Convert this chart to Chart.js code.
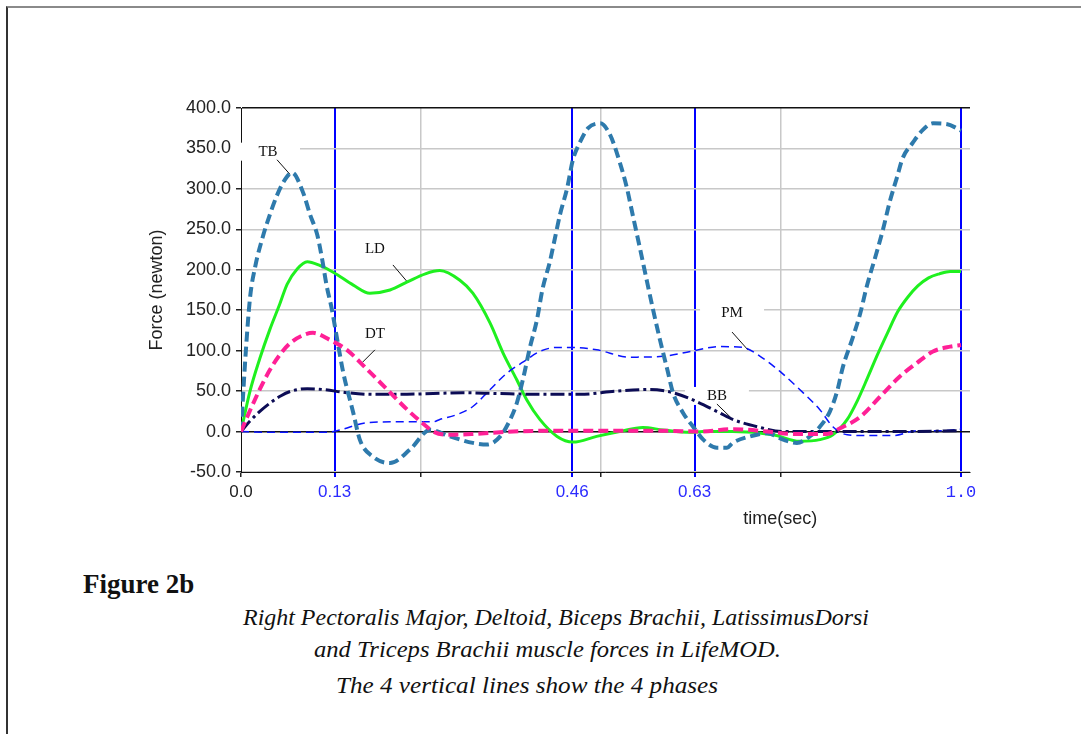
<!DOCTYPE html>
<html><head><meta charset="utf-8">
<script src="https://cdn.jsdelivr.net/npm/chart.js@4.4.1/dist/chart.umd.min.js"></script>
<style>
html,body{margin:0;padding:0;background:#fff;}
body{width:1081px;height:734px;position:relative;overflow:hidden;}
#frame{position:absolute;left:6px;top:6px;right:-4px;bottom:-4px;border-left:2px solid #333;border-top:2px solid #8a8a8a;}
#c{position:absolute;left:0;top:0;}
.cap{position:absolute;white-space:nowrap;font-family:'Liberation Serif','Times New Roman',serif;color:#111;line-height:1;}
#fig{left:83px;top:571px;font-weight:bold;font-size:27px;}
.it{font-style:italic;font-size:23px;transform-origin:0 0;}
</style></head>
<body>
<div id="frame"></div>
<canvas id="c" width="1081" height="540"></canvas>
<div class="cap" id="fig">Figure 2b</div>
<div class="cap it" style="left:243px;top:606px" data-w="626">Right Pectoralis Major, Deltoid, Biceps Brachii, LatissimusDorsi</div>
<div class="cap it" style="left:314px;top:638px" data-w="467">and Triceps Brachii muscle forces in LifeMOD.</div>
<div class="cap it" style="left:336px;top:674px" data-w="382">The 4 vertical lines show the 4 phases</div>
<script>
// ---- data ----
const tbTime  = [0,0.006,0.0125,0.02,0.03,0.040,0.050,0.060,0.071,0.086,0.096,0.106,0.1125,0.119,0.126,0.133,0.142,0.156,0.165,0.183,0.207,0.235,0.2625,0.290,0.322,0.342,0.360,0.374,0.383,0.392,0.401,0.411,0.419,0.429,0.436,0.443,0.453,0.461,0.471,0.482,0.499,0.5125,0.526,0.536,0.544,0.554,0.564,0.572,0.582,0.592,0.600,0.614,0.628,0.642,0.661,0.675,0.683,0.707,0.731,0.753,0.772,0.790,0.804,0.818,0.828,0.836,0.850,0.860,0.869,0.883,0.892,0.901,0.911,0.919,0.933,0.947,0.961,0.981,0.994,1.0];
const tbForce = [0,90,165,205,240,268,292,310,320,296,268,243,214,180,152,117,73,23,-10,-31,-39,-22,2,-6,-14,-16,-6,15,35,66,103,138,177,210,239,268,301,336,358,375,381,367,333,301,268,227,185,152,113,77,48,23,6,-10,-20,-20,-14,-6,-2,-10,-14,-6,6,25,50,80,117,146,179,222,251,284,314,338,357,373,381,380,375,372];

const ldTime  = [0,0.0125,0.026,0.040,0.054,0.064,0.078,0.092,0.110,0.128,0.156,0.179,0.207,0.231,0.256,0.276,0.304,0.322,0.346,0.364,0.383,0.397,0.415,0.439,0.461,0.494,0.526,0.558,0.586,0.624,0.642,0.683,0.739,0.776,0.804,0.822,0.842,0.856,0.870,0.884,0.898,0.912,0.926,0.940,0.955,0.970,0.985,1.0];
const ldForce = [0,50,90,126,158,182,201,210,205,197,181,171,175,185,195,199,187,171,134,97,64,39,15,-6,-13,-6,0,5,2,-1,0,0,-4,-12,-10,-4,15,38,66,95,122,148,166,180,190,195,198,198];

const dtTime  = [0,0.0125,0.026,0.040,0.054,0.068,0.086,0.100,0.124,0.147,0.175,0.203,0.231,0.258,0.267,0.286,0.322,0.378,0.425,0.499,0.586,0.6375,0.683,0.731,0.767,0.814,0.832,0.860,0.8875,0.915,0.939,0.961,0.985,1.0];
const dtForce = [0,26,52,76,95,109,119,122,113,101,77,52,27,6,0,-4,-3,0,1,1,1,0,3,0,-3,-3,4,18,43,68,85,99,105,107];

const bbTime  = [0,0.0125,0.025,0.040,0.055,0.070,0.092,0.114,0.147,0.183,0.221,0.267,0.308,0.356,0.425,0.471,0.522,0.568,0.600,0.633,0.665,0.683,0.717,0.753,0.832,0.915,1.0];
const bbForce = [0,13,24,35,44,50,53,52,48,46,46,47,48,47,46,46,50,52,48,37,23,15,6,0,0,0,1];

const pmTime  = [0,0.044,0.119,0.1375,0.175,0.221,0.267,0.276,0.300,0.322,0.346,0.369,0.392,0.415,0.439,0.461,0.494,0.540,0.586,0.624,0.665,0.697,0.721,0.749,0.776,0.804,0.822,0.842,0.869,0.906,0.939,0.971,1.0];
const pmForce = [0,-1,-1,2,11,12,12,15,21,31,52,72,86,99,104,104,101,92,93,99,105,104,93,74,52,27,6,-4,-5,-5,1,1,3];

const phaseTimes   = [0.13, 0.46, 0.63, 1.0];
const quarterTimes = [0.25, 0.5, 0.75];
const xLabelValues = [0, 0.13, 0.46, 0.63, 1.0];
const xLabelTexts  = ['0.0', '0.13', '0.46', '0.63', '1.0'];

const curveNames  = ['TB', 'LD', 'DT', 'PM', 'BB'];
const labelTime   = [0.0375, 0.186, 0.186, 0.682, 0.661];
const labelForce  = [346, 226, 120, 147, 44];
const leadFromT   = [0.050, 0.211, 0.186, 0.682, 0.661];
const leadFromF   = [336, 206, 101, 123, 34];
const leadToT     = [0.068, 0.232, 0.168, 0.704, 0.683];
const leadToF     = [318, 184, 85, 101, 15];

const pts = (t, f) => t.map((v, i) => ({x: v, y: f[i]}));

const annot = {
  id: 'annot',
  beforeDatasetsDraw(chart) {
    const {ctx, scales: {x, y}} = chart;
    ctx.save();
    ctx.font = '15px "Liberation Serif", serif';
    ctx.textAlign = 'center';
    ctx.textBaseline = 'middle';
    curveNames.forEach((name, i) => {
      const px = x.getPixelForValue(labelTime[i]);
      const py = y.getPixelForValue(labelForce[i]);
      ctx.fillStyle = '#fff';
      ctx.fillRect(px - 32, py - 9, 64, 18);
      ctx.fillStyle = '#111';
      ctx.fillText(name, px, py);
      ctx.strokeStyle = '#111';
      ctx.lineWidth = 1;
      ctx.beginPath();
      ctx.moveTo(x.getPixelForValue(leadFromT[i]), y.getPixelForValue(leadFromF[i]));
      ctx.lineTo(x.getPixelForValue(leadToT[i]), y.getPixelForValue(leadToF[i]));
      ctx.stroke();
    });
    ctx.restore();
  },
  afterDraw(chart) {
    const {ctx, scales: {x}, chartArea} = chart;
    ctx.save();
    ctx.font = '18px "Liberation Sans", Arial, sans-serif';
    ctx.fillStyle = '#222';
    ctx.textAlign = 'center';
    ctx.textBaseline = 'middle';
    ctx.fillText('time(sec)', x.getPixelForValue(0.749), chartArea.bottom + 47);
    ctx.restore();
  }
};

Chart.defaults.font.family = '"Liberation Sans", Arial, sans-serif';

const isPhase = v => phaseTimes.some(p => Math.abs(p - v) < 1e-9);

new Chart(document.getElementById('c'), {
  type: 'line',
  data: {
    datasets: [
      {label: 'DT', data: pts(dtTime, dtForce), borderColor: '#ff2096', borderWidth: 4, borderDash: [10, 5]},
      {label: 'TB', data: pts(tbTime, tbForce), borderColor: '#2e7aac', borderWidth: 4, borderDash: [10, 5]},
      {label: 'BB', data: pts(bbTime, bbForce), borderColor: '#0c0c55', borderWidth: 3, borderDash: [14, 4, 3, 4]},
      {label: 'PM', data: pts(pmTime, pmForce), borderColor: '#0a14ff', borderWidth: 1.5, borderDash: [8, 5]},
      {label: 'LD', data: pts(ldTime, ldForce), borderColor: '#1ff01f', borderWidth: 3}
    ]
  },
  options: {
    responsive: false,
    animation: false,
    devicePixelRatio: 1,
    elements: {
      point: {radius: 0},
      line: {cubicInterpolationMode: 'monotone', fill: false}
    },
    layout: {padding: {left: 140, top: 108, right: 111, bottom: 8}},
    plugins: {legend: {display: false}, tooltip: {enabled: false}},
    scales: {
      x: {
        type: 'linear',
        min: 0,
        max: 1.0125,
        afterBuildTicks: s => {
          s.ticks = [...xLabelValues, ...quarterTimes].sort((a, b) => a - b).map(v => ({value: v}));
        },
        afterFit: s => { s.height = 60; },
        ticks: {
          autoSkip: false,
          maxRotation: 0,
          padding: 5,
          callback: v => {
            const i = xLabelValues.findIndex(p => Math.abs(p - v) < 1e-9);
            return i >= 0 ? xLabelTexts[i] : '';
          },
          color: c => (c.tick && c.tick.value === 0) ? '#222' : '#2a2aff',
          font: c => (c.tick && c.tick.value === 1) ?
            {family: '"Liberation Mono", monospace', size: 17} :
            {family: '"Liberation Sans", Arial, sans-serif', size: 17}
        },
        grid: {
          color: c => {
            const v = c.tick ? c.tick.value : -1;
            if (v === 0) return 'rgba(0,0,0,0)';
            return isPhase(v) ? '#0000ff' : '#c8c8c8';
          },
          lineWidth: c => (c.tick && isPhase(c.tick.value)) ? 2 : 1.5,
          tickColor: c => (c.tick && isPhase(c.tick.value)) ? '#0000ff' : '#222',
          tickLength: 5,
          drawTicks: true
        },
        border: {display: true, color: '#111', width: 1}
      },
      y: {
        type: 'linear',
        min: -50,
        max: 400,
        afterFit: s => { s.width = 101; },
        ticks: {
          stepSize: 25,
          padding: 5,
          color: '#222',
          font: {size: 18},
          callback: v => (v % 50 === 0) ? v.toFixed(1) : ''
        },
        grid: {
          color: c => {
            const v = c.tick ? c.tick.value : 1;
            return (v === 0 || v === 400) ? '#111' : '#c8c8c8';
          },
          lineWidth: 1.5,
          tickColor: '#222',
          tickLength: 5
        },
        border: {display: true, color: '#111', width: 1},
        title: {display: true, text: 'Force (newton)', color: '#222', font: {size: 18}, padding: {top: 6, bottom: 4}}
      }
    }
  },
  plugins: [annot]
});

function fitCaptions() {
  document.querySelectorAll('.it').forEach(el => {
    el.style.transform = 'none';
    const w = el.getBoundingClientRect().width;
    const target = parseFloat(el.dataset.w);
    if (w > 0) el.style.transform = 'scaleX(' + (target / w) + ')';
  });
}
if (document.fonts && document.fonts.ready) document.fonts.ready.then(fitCaptions);
fitCaptions();
</script>
</body></html>
